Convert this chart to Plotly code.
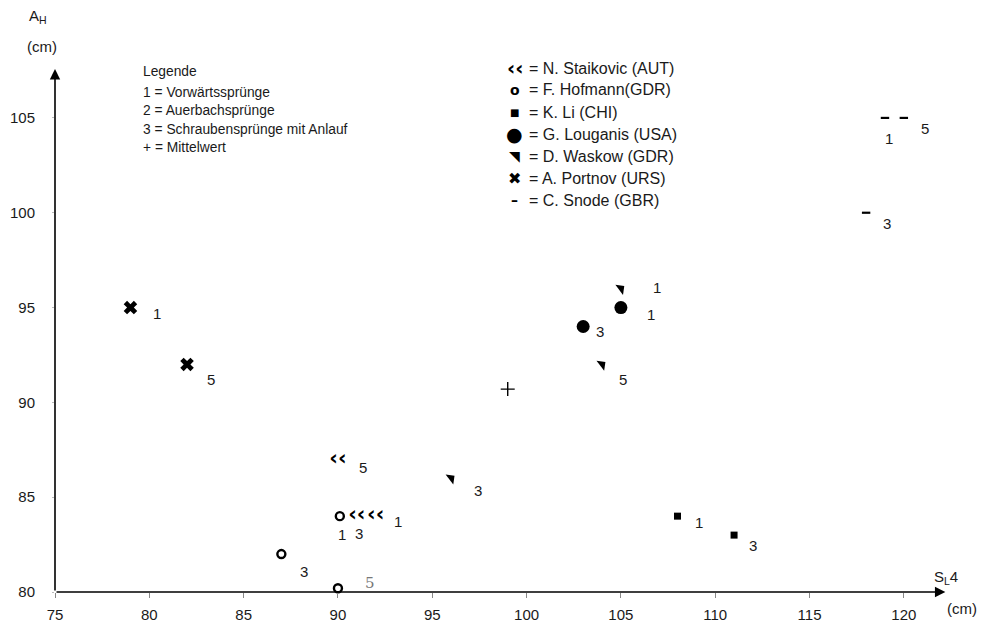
import plotly.graph_objects as go

# ---------------- data ----------------
staikovic_x = [90, 91, 92]
staikovic_y = [87, 84, 84]
staikovic_lbl = ["5", "3", "1"]

hofmann_x = [90.1, 87, 90]
hofmann_y = [84, 82, 80.2]
hofmann_lbl = ["1", "3", "5"]

li_x = [108, 111]
li_y = [84, 83]
li_lbl = ["1", "3"]

louganis_x = [105, 103]
louganis_y = [95, 94]
louganis_lbl = ["1", "3"]

waskow_x = [105, 96, 104]
waskow_y = [96, 86, 92]
waskow_lbl = ["1", "3", "5"]

portnov_x = [79, 82]
portnov_y = [95, 92]
portnov_lbl = ["1", "5"]

snode_x = [119, 118, 120]
snode_y = [105, 100, 105]
snode_lbl = ["1", "3", "5"]

mittel_x = [99]
mittel_y = [90.7]

x_ticks = [75, 80, 85, 90, 95, 100, 105, 110, 115, 120]
y_ticks = [80, 85, 90, 95, 100, 105]

legend1_lines = ["Legende", "1 = Vorwärtssprünge", "2 = Auerbachsprünge",
                 "3 = Schraubensprünge mit Anlauf", "+ = Mittelwert"]
legend2_glyphs = ["‹‹", "o", "■", "●", "◥", "✖", "–"]
legend2_names = ["= N. Staikovic (AUT)", "= F. Hofmann(GDR)", "= K. Li (CHI)",
                 "= G. Louganis (USA)", "= D. Waskow (GDR)", "= A. Portnov (URS)",
                 "= C. Snode (GBR)"]

# ---------------- label offsets (pixels, dx right, dy down) ----------------
staikovic_off = [(25, 8), (2, 17), (22, 5)]
hofmann_off = [(2, 18), (23, 17), (32, -5)]
li_off = [(22, 6), (19, 10)]
louganis_off = [(30, 7), (17, 5)]
waskow_off = [(36, -1), (27, 12), (21, 15)]
portnov_off = [(27, 6), (24, 15)]
snode_off = [(4, 21), (21, 11), (21, 11)]

FONT = "Liberation Sans, Arial, Helvetica, sans-serif"
INK = "#1a1a1a"

# page has an 8px body margin; figure sized to fit the 986x630 window
PAGE_OFF = 8
FIG_W, FIG_H = 986 - PAGE_OFF, 630 - 2 * PAGE_OFF
L, T, W, H = 55 - PAGE_OFF, 69 - PAGE_OFF, 896, 523
X_RANGE = [75, 122.5]
Y_RANGE = [80, 107.58]


def px(xp, yp):
    """page pixel -> paper coordinates"""
    xf, yf = xp - PAGE_OFF, yp - PAGE_OFF
    return (xf - L) / W, (T + H - yf) / H


fig = go.Figure()

# markers
fig.add_trace(go.Scatter(x=staikovic_x, y=staikovic_y, mode="text", text=["‹‹"] * 3,
                         textfont=dict(size=21, color="black", family="DejaVu Sans", weight="bold"),
                         cliponaxis=False, showlegend=False, hoverinfo="skip"))
fig.add_trace(go.Scatter(x=hofmann_x, y=hofmann_y, mode="markers", cliponaxis=False,
                         marker=dict(symbol="circle-open", size=8, color="black", line=dict(width=2.4)),
                         showlegend=False))
fig.add_trace(go.Scatter(x=li_x, y=li_y, mode="markers", cliponaxis=False,
                         marker=dict(symbol="square", size=7, color="black"), showlegend=False))
fig.add_trace(go.Scatter(x=louganis_x, y=louganis_y, mode="markers", cliponaxis=False,
                         marker=dict(symbol="circle", size=13, color="black"), showlegend=False))
fig.add_trace(go.Scatter(x=waskow_x, y=waskow_y, mode="markers", cliponaxis=False,
                         marker=dict(symbol="triangle-ne", size=10, color="black", angle=8),
                         showlegend=False))
fig.add_trace(go.Scatter(x=portnov_x, y=portnov_y, mode="markers", cliponaxis=False,
                         marker=dict(symbol="x", size=12, color="black", line=dict(width=0)),
                         showlegend=False))
fig.add_trace(go.Scatter(x=snode_x, y=snode_y, mode="markers", cliponaxis=False,
                         marker=dict(symbol="line-ew", size=6, color="black",
                                     line=dict(width=2.2, color="black")), showlegend=False))
fig.add_trace(go.Scatter(x=mittel_x, y=mittel_y, mode="markers", cliponaxis=False,
                         marker=dict(symbol="cross-thin", size=10, color="black",
                                     line=dict(width=1.4, color="black")), showlegend=False))

annotations = []

# point labels
groups = [
    (staikovic_x, staikovic_y, staikovic_lbl, staikovic_off),
    (hofmann_x, hofmann_y, hofmann_lbl, hofmann_off),
    (li_x, li_y, li_lbl, li_off),
    (louganis_x, louganis_y, louganis_lbl, louganis_off),
    (waskow_x, waskow_y, waskow_lbl, waskow_off),
    (portnov_x, portnov_y, portnov_lbl, portnov_off),
    (snode_x, snode_y, snode_lbl, snode_off),
]
for gi, (xs, ys, lbls, offs) in enumerate(groups):
    for i, (xv, yv, lb, (dx, dy)) in enumerate(zip(xs, ys, lbls, offs)):
        handwritten = (gi == 1 and lb == "5")
        annotations.append(dict(
            x=xv, y=yv, xref="x", yref="y", text=lb, showarrow=False,
            xshift=dx, yshift=-dy, xanchor="center", yanchor="middle",
            font=dict(family="DejaVu Serif" if handwritten else FONT, size=15,
                      color="#777" if handwritten else INK)))

# axes with arrowheads
annotations.append(dict(x=X_RANGE[1] - 0.3, y=Y_RANGE[0], ax=X_RANGE[0], ay=Y_RANGE[0],
                        xref="x", yref="y", axref="x", ayref="y", text="", showarrow=True,
                        arrowhead=2, arrowsize=1.3, arrowwidth=1.6, arrowcolor="black"))
annotations.append(dict(x=X_RANGE[0], y=Y_RANGE[1], ax=X_RANGE[0], ay=Y_RANGE[0],
                        xref="x", yref="y", axref="x", ayref="y", text="", showarrow=True,
                        arrowhead=2, arrowsize=1.3, arrowwidth=1.6, arrowcolor="black"))

# axis titles
for txt, (xp, yp) in [("A<sub>H</sub>", (38, 16)), ("(cm)", (42, 47)),
                      ("S<sub>L</sub>4", (946, 577)), ("(cm)", (962, 608))]:
    xr, yr = px(xp, yp)
    annotations.append(dict(x=xr, y=yr, xref="paper", yref="paper", text=txt, showarrow=False,
                            xanchor="center", yanchor="middle", font=dict(family=FONT, size=15, color=INK)))

# legend 1 (number codes)
for i, line in enumerate(legend1_lines):
    xr, yr = px(141, 72 + i * 18.4 + (2 if i > 0 else 0))
    annotations.append(dict(x=xr, y=yr, xref="paper", yref="paper", text=line, showarrow=False,
                            xanchor="left", yanchor="middle", font=dict(family=FONT, size=13.8, color=INK)))

# legend 2 (athletes)
for i, (g, nm) in enumerate(zip(legend2_glyphs, legend2_names)):
    yp = 68 + i * 22
    xr, yr = px(515, yp)
    gsize = {0: 20, 1: 14, 2: 10, 3: 19, 4: 14, 5: 16, 6: 14}[i]
    gtext = "<b>%s</b>" % g if i in (0, 1, 6) else g
    annotations.append(dict(x=xr, y=yr, xref="paper", yref="paper", text=gtext, showarrow=False,
                            xanchor="center", yanchor="middle",
                            font=dict(family="DejaVu Sans", size=gsize, color="black")))
    xr2, _ = px(527, yp)
    annotations.append(dict(x=xr2, y=yr, xref="paper", yref="paper", text=nm, showarrow=False,
                            xanchor="left", yanchor="middle", font=dict(family=FONT, size=16, color=INK)))

fig.update_layout(
    width=FIG_W, height=FIG_H,
    margin=dict(l=L, r=FIG_W - L - W, t=T, b=FIG_H - T - H, pad=0, autoexpand=False),
    paper_bgcolor="white", plot_bgcolor="white",
    showlegend=False,
    annotations=annotations,
    xaxis=dict(range=X_RANGE, tickvals=x_ticks, ticktext=[str(v) for v in x_ticks],
               showgrid=False, zeroline=False, showline=False, automargin=False,
               ticks="outside", ticklen=5, tickwidth=1, tickcolor="#888",
               ticklabelstandoff=4, tickfont=dict(family=FONT, size=15, color=INK)),
    yaxis=dict(range=Y_RANGE, tickvals=y_ticks, ticktext=[str(v) for v in y_ticks],
               showgrid=False, zeroline=False, showline=False, automargin=False,
               ticks="outside", ticklen=2, tickwidth=1, tickcolor="#bbb",
               ticklabelstandoff=14, tickfont=dict(family=FONT, size=15, color=INK)),
)

fig.write_html("out.html")
